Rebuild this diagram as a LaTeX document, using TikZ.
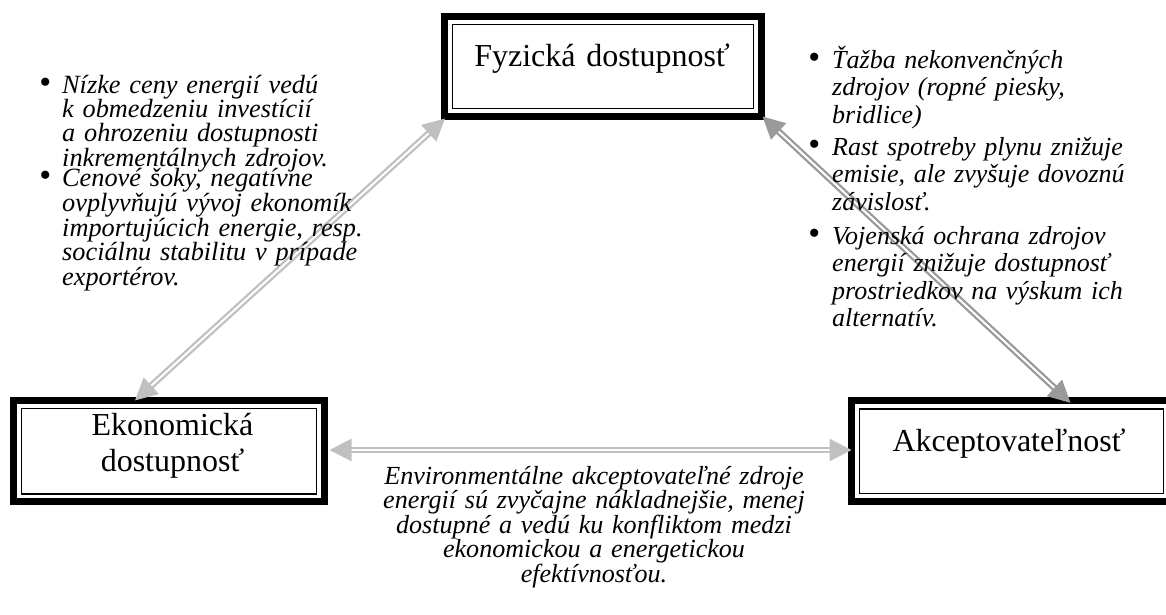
\documentclass[tikz,border=0pt]{standalone}
\usepackage{fontspec}
\setmainfont{Liberation Serif}
\usetikzlibrary{arrows.meta}
\definecolor{lgray}{HTML}{C0C0C0}
\definecolor{dgray}{HTML}{9A9A9A}
\newcommand{\mybul}[1]{\llap{\upshape\fontsize{34}{20}\selectfont•\hspace{#1}}}
\begin{document}
\begin{tikzpicture}[x=1pt,y=-1pt,
  obox/.style={draw=black, line width=7pt, inner sep=0pt, outer sep=0pt, rectangle},
  ibox/.style={draw=black, line width=1.7pt, inner sep=0pt, outer sep=0pt, rectangle},
  boxtext/.style={font=\fontsize{32}{36.7}\selectfont, inner sep=0pt, text width=320pt, align=center, anchor=base},
  lnote/.style={font=\fontsize{26.3}{23.3}\selectfont\itshape, inner sep=0pt, text width=400pt, align=left, anchor=base west},
  rnote/.style={font=\fontsize{26}{27.6}\selectfont\itshape, inner sep=0pt, text width=400pt, align=left, anchor=base west},
  bnote/.style={font=\fontsize{26.1}{24.6}\selectfont\itshape, inner sep=0pt, text width=480pt, align=center, anchor=base},
  conn/.style={draw=#1, line width=2.3pt, double=white, double distance=2pt,
    {Triangle[length=22pt,width=22pt,fill=#1,color=#1]}-{Triangle[length=22pt,width=22pt,fill=#1,color=#1]}}
]
\useasboundingbox (0,0) rectangle (1166,614);
\clip (0,0) rectangle (1166,614);

% boxes
\node[obox, minimum width=317pt, minimum height=100pt] (fyz) at (603,66.5) {};
\node[ibox, minimum width=301pt, minimum height=84pt] (fyzin) at (fyz.center) {};
\node[boxtext] (fyzt) at (602,66.7) {Fyzická dostupnosť};

\node[obox, minimum width=311pt, minimum height=101.5pt] (eko) at (169,451.2) {};
\node[ibox, minimum width=295pt, minimum height=85.5pt] (ekoin) at (eko.center) {};
\node[boxtext] (ekot) at (172.5,435) {Ekonomická\\dostupnosť};

\node[obox, minimum width=320pt, minimum height=100.7pt] (akc) at (1011.5,451.2) {};
\node[ibox, minimum width=304pt, minimum height=84.7pt] (akcin) at (akc.center) {};
\node[boxtext] (akct) at (1009,451.7) {Akceptovateľnosť};

% connectors
\draw[conn=lgray] ([shift={(121.5,0)}]eko.north west) -- ([shift={(0.5,2)}]fyz.south west);
\draw[conn=dgray] ([shift={(1,0)}]fyz.south east) -- ([shift={(219,2)}]akc.north west);
\draw[conn=lgray] ([shift={(5,-1.2)}]eko.east) -- ([shift={(0,-1.2)}]akc.west);

% notes left
\node[lnote] (l1) at (62,93) {\mybul{11pt}Nízke ceny energií vedú\\k obmedzeniu investícií\\a ohrozeniu dostupnosti\\inkrementálnych zdrojov.};
\node[lnote] (l2) at (62,186.2) {\mybul{11pt}Cenové šoky, negatívne\\ovplyvňujú vývoj ekonomík\\importujúcich energie, resp.\\sociálnu stabilitu v prípade\\exportérov.};

% notes right
\node[rnote] (r1) at (832,68) {\mybul{12pt}Ťažba nekonvenčných\\zdrojov (ropné piesky,\\bridlice)};
\node[rnote] (r2) at (832,155) {\mybul{12pt}Rast spotreby plynu znižuje\\emisie, ale zvyšuje dovoznú\\závislosť.};
\node[rnote] (r3) at (832,244) {\mybul{12pt}Vojenská ochrana zdrojov\\energií znižuje dostupnosť\\prostriedkov na výskum ich\\alternatív.};

% bottom note
\node[bnote] (b1) at (594,484) {Environmentálne akceptovateľné zdroje\\energií sú zvyčajne nákladnejšie, menej\\dostupné a vedú ku konfliktom medzi\\ekonomickou a energetickou\\efektívnosťou.};
\end{tikzpicture}
\end{document}
